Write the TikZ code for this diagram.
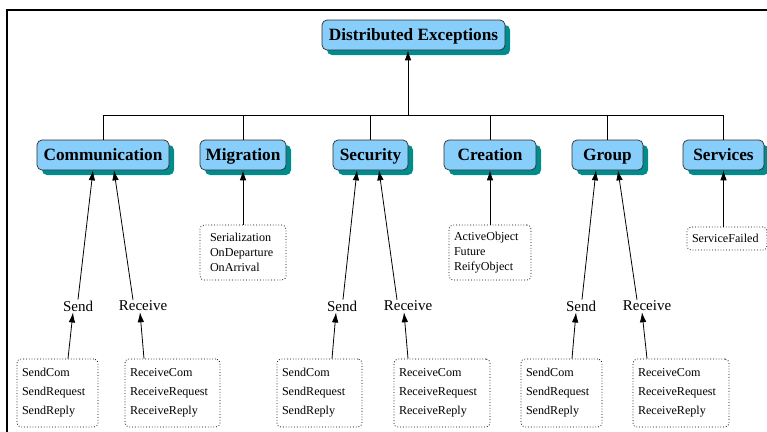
\documentclass[tikz,border=0pt]{standalone}
\usepackage{fontspec}
\setmainfont{Liberation Serif}
\usetikzlibrary{
    arrows.meta,
    shadows,
    positioning
}
\definecolor{boxblue}{RGB}{135,206,250}
\definecolor{shadowteal}{RGB}{0,140,140}
\definecolor{boxline}{RGB}{45,45,45}
\tikzset{
    catbox/.style={draw=boxline, fill=boxblue, rounded corners=5pt, line width=0.7pt,
        minimum height=30pt, inner sep=0pt, text height=13pt, text depth=2pt,
        font=\fontsize{17.25}{20}\selectfont\bfseries,
        drop shadow={shadow xshift=5pt, shadow yshift=-5pt, fill=shadowteal, opacity=1}},
    leafbox/.style={draw, dotted, line width=0.8pt, rounded corners=4pt, align=left,
        inner xsep=5pt, inner ysep=0pt, font=\fontsize{12.1}{15}\selectfont},
    tallleaf/.style={leafbox, minimum height=68pt, font=\fontsize{12.1}{19}\selectfont},
    kind/.style={inner sep=1pt, font=\fontsize{15}{18}\selectfont},
    upto/.style={-{Latex[length=10pt, width=6.5pt]}, line width=0.8pt}
}
\begin{document}
\begin{tikzpicture}[x=1pt, y=-1pt]
                        \clip (0, 0) rectangle (767, 431);
                        \draw[line width=2pt] (7, 10) rectangle (800, 460);
                        % exception classes
                        \node[catbox, minimum width=183pt] (dist) at (413.5, 35) {Distributed Exceptions};
                        \node[catbox, minimum width=132pt] (comm) at (103, 155) {Communication};
                        \node[catbox, minimum width=86pt] (mig) at (243, 155) {Migration};
                        \node[catbox, minimum width=75pt] (sec) at (370.5, 155) {Security};
                        \node[catbox, minimum width=92pt] (crea) at (490, 155) {Creation};
                        \node[catbox, minimum width=71pt] (grp) at (607.5, 155) {Group};
                        \node[catbox, minimum width=81pt] (serv) at (723.5, 155) {Services};
                        % tree to the root
                        \coordinate (bus) at (408, 115);
                        \draw[upto] (bus) -- (bus |- dist.south);
                        \draw[line width=0.8pt] (comm.north) -- (comm.north |- bus) -- (serv.north |- bus) -- (serv.north);
                        \foreach \c in {mig, sec, crea, grp}
                            \draw[line width=0.8pt] (\c.north) -- (\c.north |- bus);
                        % send and receive
                        \node[kind] (commSend) at (78, 306) {Send};
                        \node[kind] (commRecv) at (143, 306) {Receive};
                        \node[kind] (secSend) at (342, 306) {Send};
                        \node[kind] (secRecv) at (408, 306) {Receive};
                        \node[kind] (grpSend) at (581, 306) {Send};
                        \node[kind] (grpRecv) at (647, 306) {Receive};
                        \draw[upto] (commSend.north) -- ([xshift=-10pt]comm.south);
                        \draw[upto] ([xshift=-10pt]commRecv.north) -- ([xshift=11pt]comm.south);
                        \draw[upto] ([xshift=1pt]secSend.north) -- ([xshift=-13.5pt]sec.south);
                        \draw[upto] ([xshift=-11pt]secRecv.north) -- ([xshift=8.5pt]sec.south);
                        \draw[upto] ([xshift=1pt]grpSend.north) -- ([xshift=-11.5pt]grp.south);
                        \draw[upto] ([xshift=-10pt]grpRecv.north) -- ([xshift=10.5pt]grp.south);
                        % leaves
                        \node[leafbox, text width=66pt, inner xsep=10pt, minimum height=55pt] (migSet) at (243, 252.5)
                            {Serialization\\OnDeparture\\OnArrival};
                        \node[leafbox, text width=72pt, minimum height=55pt] (creaSet) at (490, 252.5)
                            {ActiveObject\\Future\\ReifyObject};
                        \node[leafbox, text width=70pt, minimum height=23pt] (servSet) at (727, 238.5)
                            {ServiceFailed};
                        \node[tallleaf, text width=71pt] (commSendSet) at (57.5, 393) {SendCom\\SendRequest\\SendReply};
                        \node[tallleaf, text width=85pt] (commRecvSet) at (172.5, 393) {ReceiveCom\\ReceiveRequest\\ReceiveReply};
                        \node[tallleaf, text width=75pt] (secSendSet) at (319.5, 393) {SendCom\\SendRequest\\SendReply};
                        \node[tallleaf, text width=86pt] (secRecvSet) at (442, 393) {ReceiveCom\\ReceiveRequest\\ReceiveReply};
                        \node[tallleaf, text width=71pt] (grpSendSet) at (561.5, 393) {SendCom\\SendRequest\\SendReply};
                        \node[tallleaf, text width=86pt] (grpRecvSet) at (681, 393) {ReceiveCom\\ReceiveRequest\\ReceiveReply};
                        \draw[upto] (migSet) -- (mig);
                        \draw[upto] (creaSet) -- (crea);
                        \draw[upto] (serv.south |- servSet.north) -- (serv.south);
                        \draw[upto] ([xshift=10.5pt]commSendSet.north) -- ([xshift=-5pt]commSend.south);
                        \draw[upto] ([xshift=-28.5pt]commRecvSet.north) -- ([xshift=-3pt]commRecv.south);
                        \draw[upto] ([xshift=12.5pt]secSendSet.north) -- ([xshift=-6pt]secSend.south);
                        \draw[upto] ([xshift=-34pt]secRecvSet.north) -- ([xshift=-4pt]secRecv.south);
                        \draw[upto] ([xshift=10.5pt]grpSendSet.north) -- ([xshift=-5pt]grpSend.south);
                        \draw[upto] ([xshift=-34pt]grpRecvSet.north) -- ([xshift=-5pt]grpRecv.south);
                    \end{tikzpicture}
\end{document}
